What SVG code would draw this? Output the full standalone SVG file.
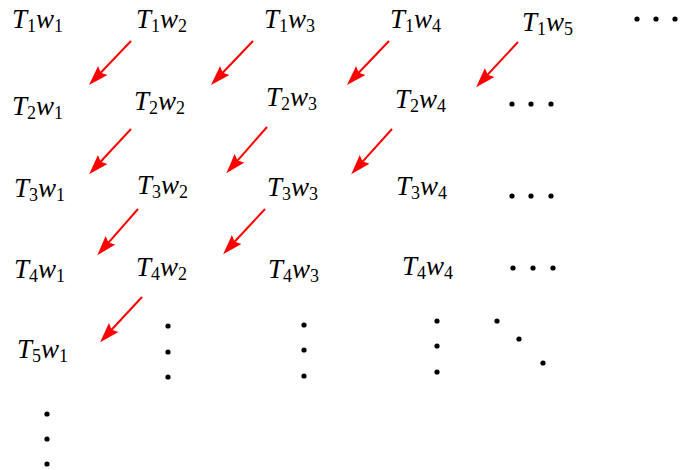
<svg xmlns="http://www.w3.org/2000/svg" width="681" height="470" viewBox="0 0 681 470">
<style>
.m{font-family:"Liberation Serif","Times New Roman",serif;font-size:27px;font-style:italic;fill:#000}
.s{font-size:18px;font-style:normal}
.d{fill:#000}
.a{stroke:#ff0000;stroke-width:2;fill:none}
</style>
<defs>
<marker id="ah" markerUnits="userSpaceOnUse" markerWidth="21" markerHeight="14" refX="10" refY="7" orient="auto" viewBox="0 0 21 14">
<path d="M0,0.5 L20,7 L0,13.5 L3,7 Z" fill="#ff0000"/>
</marker>
</defs>
<rect width="681" height="470" fill="#fff"/>
<g id="labels">
<g id="t1w1"><text class="m" x="12" y="28">T<tspan class="s" dy="4">1</tspan><tspan dy="-4">w</tspan><tspan class="s" dy="4">1</tspan></text></g>
<g id="t1w2"><text class="m" x="136" y="28">T<tspan class="s" dy="4">1</tspan><tspan dy="-4">w</tspan><tspan class="s" dy="4">2</tspan></text></g>
<g id="t1w3"><text class="m" x="264" y="28">T<tspan class="s" dy="4">1</tspan><tspan dy="-4">w</tspan><tspan class="s" dy="4">3</tspan></text></g>
<g id="t1w4"><text class="m" x="390" y="28">T<tspan class="s" dy="4">1</tspan><tspan dy="-4">w</tspan><tspan class="s" dy="4">4</tspan></text></g>
<g id="t1w5"><text class="m" x="522" y="31">T<tspan class="s" dy="4">1</tspan><tspan dy="-4">w</tspan><tspan class="s" dy="4">5</tspan></text></g>
<g id="t2w1"><text class="m" x="12" y="115">T<tspan class="s" dy="4">2</tspan><tspan dy="-4">w</tspan><tspan class="s" dy="4">1</tspan></text></g>
<g id="t2w2"><text class="m" x="134" y="110">T<tspan class="s" dy="4">2</tspan><tspan dy="-4">w</tspan><tspan class="s" dy="4">2</tspan></text></g>
<g id="t2w3"><text class="m" x="266" y="106">T<tspan class="s" dy="4">2</tspan><tspan dy="-4">w</tspan><tspan class="s" dy="4">3</tspan></text></g>
<g id="t2w4"><text class="m" x="395" y="108">T<tspan class="s" dy="4">2</tspan><tspan dy="-4">w</tspan><tspan class="s" dy="4">4</tspan></text></g>
<g id="t3w1"><text class="m" x="14" y="197">T<tspan class="s" dy="4">3</tspan><tspan dy="-4">w</tspan><tspan class="s" dy="4">1</tspan></text></g>
<g id="t3w2"><text class="m" x="137" y="194">T<tspan class="s" dy="4">3</tspan><tspan dy="-4">w</tspan><tspan class="s" dy="4">2</tspan></text></g>
<g id="t3w3"><text class="m" x="267" y="196">T<tspan class="s" dy="4">3</tspan><tspan dy="-4">w</tspan><tspan class="s" dy="4">3</tspan></text></g>
<g id="t3w4"><text class="m" x="396" y="195">T<tspan class="s" dy="4">3</tspan><tspan dy="-4">w</tspan><tspan class="s" dy="4">4</tspan></text></g>
<g id="t4w1"><text class="m" x="14" y="278">T<tspan class="s" dy="4">4</tspan><tspan dy="-4">w</tspan><tspan class="s" dy="4">1</tspan></text></g>
<g id="t4w2"><text class="m" x="136" y="276">T<tspan class="s" dy="4">4</tspan><tspan dy="-4">w</tspan><tspan class="s" dy="4">2</tspan></text></g>
<g id="t4w3"><text class="m" x="268" y="278">T<tspan class="s" dy="4">4</tspan><tspan dy="-4">w</tspan><tspan class="s" dy="4">3</tspan></text></g>
<g id="t4w4"><text class="m" x="402" y="275">T<tspan class="s" dy="4">4</tspan><tspan dy="-4">w</tspan><tspan class="s" dy="4">4</tspan></text></g>
<g id="t5w1"><text class="m" x="17" y="358">T<tspan class="s" dy="4">5</tspan><tspan dy="-4">w</tspan><tspan class="s" dy="4">1</tspan></text></g>
</g>
<g id="dots" class="d">
<circle cx="637" cy="19" r="2.6"/><circle cx="656" cy="19" r="2.6"/><circle cx="675" cy="19" r="2.6"/>
<circle cx="512" cy="104" r="2.6"/><circle cx="531" cy="104" r="2.6"/><circle cx="551" cy="104" r="2.6"/>
<circle cx="512" cy="196" r="2.6"/><circle cx="531" cy="196" r="2.6"/><circle cx="551" cy="196" r="2.6"/>
<circle cx="513" cy="268" r="2.6"/><circle cx="533" cy="268" r="2.6"/><circle cx="553" cy="268" r="2.6"/>
<circle cx="168" cy="326" r="2.6"/><circle cx="168" cy="352" r="2.6"/><circle cx="168" cy="377" r="2.6"/>
<circle cx="304" cy="325" r="2.6"/><circle cx="304" cy="350" r="2.6"/><circle cx="304" cy="376" r="2.6"/>
<circle cx="437" cy="321" r="2.6"/><circle cx="437" cy="346" r="2.6"/><circle cx="437" cy="372" r="2.6"/>
<circle cx="497" cy="321" r="2.6"/><circle cx="519" cy="339" r="2.6"/><circle cx="543" cy="363" r="2.6"/>
<circle cx="47" cy="414" r="2.6"/><circle cx="47" cy="439" r="2.6"/><circle cx="47" cy="464" r="2.6"/>
</g>
<g id="connectors" class="a">
<line x1="131" y1="41" x2="95.9" y2="77.8" marker-end="url(#ah)"/>
<line x1="253" y1="41" x2="217.9" y2="77.8" marker-end="url(#ah)"/>
<line x1="389" y1="41" x2="353.9" y2="77.8" marker-end="url(#ah)"/>
<line x1="518" y1="42" x2="482.9" y2="79.8" marker-end="url(#ah)"/>
<line x1="131" y1="129" x2="95.9" y2="166.8" marker-end="url(#ah)"/>
<line x1="267" y1="127" x2="232.9" y2="165.8" marker-end="url(#ah)"/>
<line x1="392" y1="129" x2="357.9" y2="166.8" marker-end="url(#ah)"/>
<line x1="138" y1="209" x2="103.9" y2="247.8" marker-end="url(#ah)"/>
<line x1="265" y1="209" x2="229.9" y2="246.8" marker-end="url(#ah)"/>
<line x1="142" y1="297" x2="106.9" y2="334.8" marker-end="url(#ah)"/>
</g>
</svg>
